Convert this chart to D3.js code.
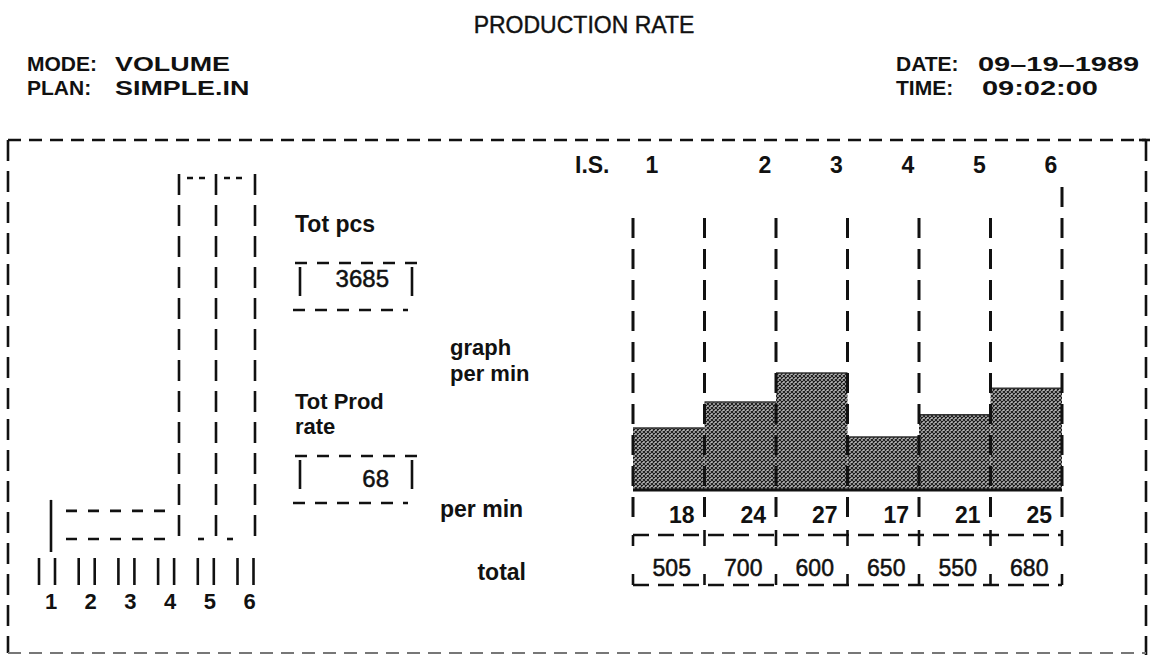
<!DOCTYPE html>
<html><head><meta charset="utf-8">
<script src="https://cdn.jsdelivr.net/npm/d3@7"></script>
<style>
html,body{margin:0;padding:0;background:#fff;}
svg{display:block;}
text{font-family:"Liberation Sans",Arial,Helvetica,sans-serif;fill:#111;font-weight:bold;font-size:23px;}
</style></head><body>
<svg id="c" width="1154" height="655"></svg>
<script>
// ---------- data ----------
const title = "PRODUCTION RATE";
const headerLeftLabels = ["MODE:", "PLAN:"];
const headerLeftValues = ["VOLUME", "SIMPLE.IN"];
const headerRightLabels = ["DATE:", "TIME:"];
const headerRightValues = ["09\u201319\u20131989", "09:02:00"];
const stations = [1, 2, 3, 4, 5, 6];
const leftLevel = [2, 2, 2, 2, 26, 26];               // left overview graph (relative)
const graphRate = [18.3, 22.4, 27, 16.9, 20.4, 24.6]; // shaded bar heights (graph per min)
const perMin = [18, 24, 27, 17, 21, 25];
const totals = [505, 700, 600, 650, 550, 680];
const totPcs = 3685;
const totProdRate = 68;
const middleLabels = {pcs: "Tot pcs", prod: ["Tot Prod", "rate"], graph: ["graph", "per min"], perMin: "per min", total: "total", is: "I.S."};

// ---------- setup ----------
const svg = d3.select("#c");
const ink = "#111";
const defs = svg.append("defs");
const pat = defs.append("pattern").attr("id", "hatch").attr("width", 4).attr("height", 4)
  .attr("patternUnits", "userSpaceOnUse");
pat.append("rect").attr("width", 4).attr("height", 4).attr("fill", "#b8b8b8");
pat.append("path").attr("d", "M0,0 L4,4 M4,0 L0,4").attr("stroke", "#1a1a1a").attr("stroke-width", 1.05);

function line(x1, y1, x2, y2, dash, w) {
  return svg.append("line").attr("x1", x1).attr("y1", y1).attr("x2", x2).attr("y2", y2)
    .attr("stroke", ink).attr("stroke-width", w || 2.6)
    .attr("stroke-dasharray", dash || null);
}
function txt(x, y, s, anchor, size) {
  return svg.append("text").attr("x", x).attr("y", y).attr("text-anchor", anchor || "start")
    .style("font-size", (size || 23) + "px").text(s);
}
function wideTxt(x, y, s, sx, size) {
  return svg.append("text").attr("transform", `translate(${x},${y}) scale(${sx},1)`)
    .style("font-size", (size || 21) + "px").text(s);
}

// ---------- header ----------
txt(584, 33, title, "middle", 23).style("font-weight", "normal").style("stroke", ink).style("stroke-width", 0.4);
headerLeftLabels.forEach((s, i) => txt(27, 71 + i * 24, s, "start", 21));
headerLeftValues.forEach((s, i) => wideTxt(115, 71 + i * 24, s, 1.28));
headerRightLabels.forEach((s, i) => txt(896, 71 + i * 24, s, "start", 21));
headerRightValues.forEach((s, i) => wideTxt(978 + i * 4, 71 + i * 24, s, 1.38));

// ---------- frame ----------
line(8, 140, 1146, 140, "13,8");
line(8, 140, 8, 653, "21,10");
line(1146, 140, 1146, 655, "21,10");
line(1139, 140, 1150, 140);
line(8, 653, 1146, 653, "13,8").attr("stroke", "#777").attr("stroke-width", 2);

// ---------- left overview graph ----------
const xL = d3.scaleLinear().domain([0.5, 4.5, 5.5, 6.5]).range([51, 179, 216, 255]);
const yL = d3.scaleLinear().domain([0, 26]).range([539, 174]);
const tallMax = d3.max(leftLevel);
// low stations drawn as one merged block, tall stations individually
const groups = [];
stations.forEach((s, i) => {
  const g = groups[groups.length - 1];
  if (g && g.v === leftLevel[i] && leftLevel[i] < tallMax) g.to = s;
  else groups.push({from: s, to: s, v: leftLevel[i]});
});
const base = yL(0);
groups.forEach((g, gi) => {
  const x0 = xL(g.from - 0.5), x1 = xL(g.to + 0.5), top = yL(g.v);
  if (g.v < tallMax) {
    line(x0, top - 11, x0, base + 13, null);
    line(x0 + 15, top, x1 - 12, top, "11,11");
    line(x0 + 15, base, x1 - 12, base, "11,11");
  } else {
    line(x0, top, x0, base, "21,10");
    if (gi === groups.length - 1) line(x1, top, x1, base, "21,10");
    line(x0 + 8, top + 4, x1 - 7, top + 4, "6,6");
    const off = gi === groups.length - 1 ? 11 : 19;
    line(x0 + off, base, x0 + off + 6, base, null);
  }
});
const xP = d3.scalePoint().domain(stations).range([47, 245.5]);
stations.forEach(s => {
  line(xP(s) - 8, 558, xP(s) - 8, 585, null);
  line(xP(s) + 8, 558, xP(s) + 8, 585, null);
});
svg.selectAll("text.lbl").data(stations).join("text").attr("class", "lbl")
  .attr("x", d => xP(d) + 4).attr("y", 609).attr("text-anchor", "middle")
  .style("font-size", "22px").text(d => d);

// ---------- middle info boxes ----------
txt(295, 232, middleLabels.pcs);
function infoBox(yTop, yBot, value, vy) {
  line(295, yTop, 418, yTop, "12,10");
  line(300, yTop + 4, 300, yBot - 14, null);
  line(412, yTop + 4, 412, yBot - 14, null);
  line(293, yBot, 408, yBot, "12,10");
  txt(389, vy, value, "end", 24).style("font-weight", "normal").style("stroke", ink).style("stroke-width", 0.5);
}
infoBox(263, 310, totPcs, 287);
middleLabels.graph.forEach((s, i) => txt(450, 355 + i * 26, s, "start", 22));
middleLabels.prod.forEach((s, i) => txt(295, 409 + i * 25, s, "start", 22));
infoBox(456, 503, totProdRate, 487);
txt(440, 517, middleLabels.perMin);
txt(526, 580, middleLabels.total, "end");

// ---------- station bar chart ----------
const x = d3.scaleBand().domain(stations).range([633, 1062]).padding(0);
const bw = x.bandwidth();
const y = d3.scaleLinear().domain([8.5, 27]).range([490, 373]);
const edges = stations.map(s => x(s)).concat([x(6) + bw]);

txt(575, 173, middleLabels.is);
svg.selectAll("text.is").data(stations).join("text").attr("class", "is")
  .attr("x", (d, i) => i === 0 ? x(d) + 19 : x(d) + bw - 11).attr("y", 173)
  .attr("text-anchor", "middle").text(d => d);

svg.selectAll("rect.bar").data(stations).join("rect").attr("class", "bar")
  .attr("x", d => x(d)).attr("width", bw)
  .attr("y", (d, i) => y(graphRate[i])).attr("height", (d, i) => y.range()[0] - y(graphRate[i]))
  .attr("fill", "url(#hatch)");
stations.forEach((d, i) => line(x(d), y(graphRate[i]), x(d) + bw, y(graphRate[i]), null, 1.5).attr("stroke", "#333"));
line(x(1), y.range()[0], x(6) + bw, y.range()[0], null, 3);

edges.forEach((ex, i) => {
  line(ex, i === edges.length - 1 ? 187 : 218, ex, 525, "20,11", 3);
});

svg.selectAll("text.pm").data(perMin).join("text").attr("class", "pm")
  .attr("x", (d, i) => x(stations[i]) + bw - 10).attr("y", 523)
  .attr("text-anchor", "end").text(d => d);

// totals box
const tTop = 535, tBot = 585;
line(x(1), tTop, x(6) + bw, tTop, "16,9");
line(x(1), tBot, x(6) + bw, tBot, "16,9");
edges.forEach((ex, i) => {
  line(ex, i === 0 ? tTop : tTop - 5, ex, tTop + 11, null);
  line(ex, tBot - 11, ex, tBot, null);
});
svg.selectAll("text.tot").data(totals).join("text").attr("class", "tot")
  .attr("x", (d, i) => x(stations[i]) + bw / 2 + 3).attr("y", 576)
  .attr("text-anchor", "middle").style("font-weight", "normal").style("stroke", ink).style("stroke-width", 0.5)
  .text(d => d);
</script>
</body></html>
